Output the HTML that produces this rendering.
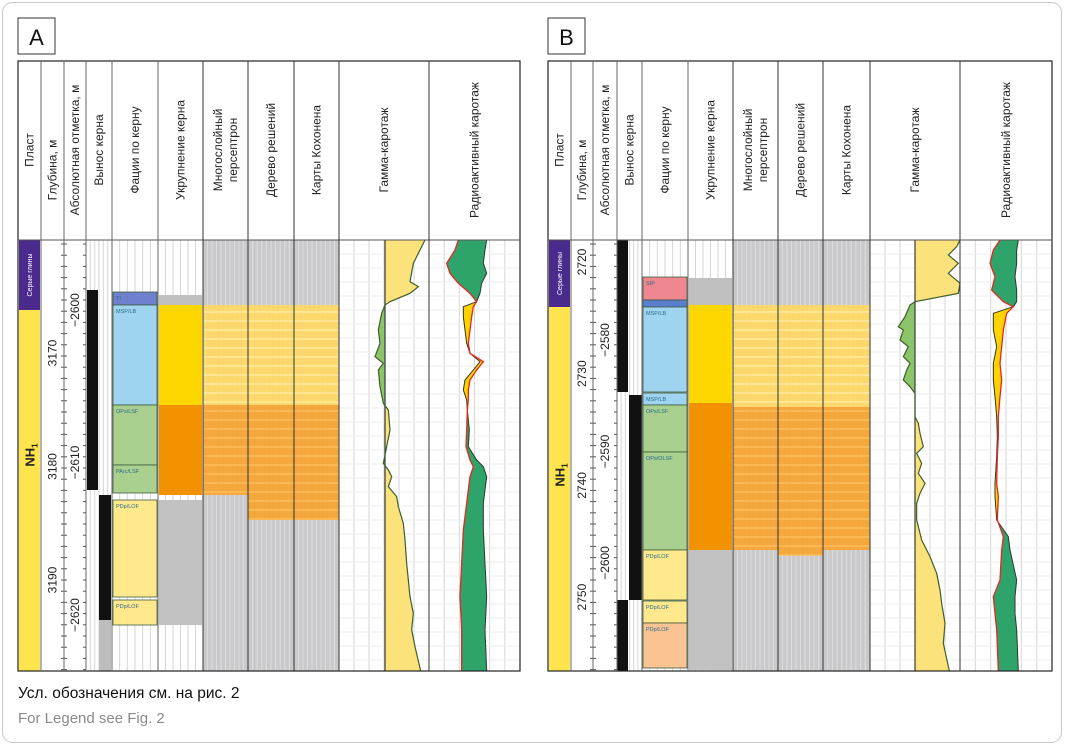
<!DOCTYPE html>
<html><head><meta charset="utf-8">
<style>
html,body{margin:0;padding:0;background:#fff;}
body{width:1065px;height:746px;overflow:hidden;font-family:"Liberation Sans","DejaVu Sans",sans-serif;}
svg text{font-family:"Liberation Sans","DejaVu Sans",sans-serif;}
</style></head>
<body>
<svg id="fig" width="1065" height="746" xmlns="http://www.w3.org/2000/svg">
<rect x="2.5" y="2.5" width="1059" height="740" rx="10" fill="#fff" stroke="#c8c8c8"/>
<text x="18" y="698" font-size="15.5" fill="#111">Усл. обозначения см. на рис. 2</text>
<text x="18" y="723" font-size="15" fill="#8a8a8a">For Legend see Fig. 2</text>
</svg>
<script>
// ---------- DATA ----------
const headerLabels = [["Пласт"],["Глубина, м"],["Абсолютная отметка, м"],["Вынос керна"],["Фации по керну"],["Укрупнение керна"],["Многослойный","персептрон"],["Дерево решений"],["Карты Кохонена"],["Гамма-каротаж"],["Радиоактивный каротаж"]];
const depthTicksA = [3170,3180,3190];
const absTicksA = [-2600,-2610,-2620];
const depthTicksB = [2720,2730,2740,2750];
const absTicksB = [-2580,-2590,-2600];
const faciesTopA = [292,305,405,465,500,600];
const faciesBotA = [305,405,465,493,597,625];
const faciesColA = ["#6f80cf","#9fd4f1","#a9d08e","#a9d08e","#ffe98c","#ffe98c"];
const faciesLblA = ["TI","MSP/LB","OPs/LSF","PArc/LSF","PDp/LOF","PDp/LOF"];
const faciesTopB = [277,300,307,393,405,452,550,601,623];
const faciesBotB = [300,307,392,405,452,550,600,623,668];
const faciesColB = ["#ee8790","#5b7fd0","#9fd4f1","#9fd4f1","#a9d08e","#a9d08e","#ffe98c","#ffe98c","#f9c392"];
const faciesLblB = ["SIP","","MSP/LB","MSP/LB","OPs/LSF","OPs/OLSF","PDp/LOF","PDp/LOF","PDp/LOF"];
const upTopA=[295,305,405,500], upBotA=[305,405,495,625], upColA=["#c0c0c0","#ffd700","#f39200","#c2c2c2"];
const upTopB=[278,305,403,550], upBotB=[305,403,550,670], upColB=["#c0c0c0","#ffd700","#f39200","#c2c2c2"];
const gDepA=[30,60,100,155,170,190,215,225,250,300,340,380,400,420,470,520,540,600,650,700,720,740,770,800,830,880,930,1000,1050,1100,1150,1200,1250,1323];
const gValA=[285,270,250,240,265,240,180,165,155,145,150,135,160,145,150,160,175,180,170,160,175,185,175,200,205,220,225,230,235,240,250,245,255,272];
const gDepB=[30,50,75,100,130,160,190,215,225,260,290,300,330,350,380,400,420,450,470,490,560,580,610,650,670,700,730,760,790,820,870,930,980,1030,1080,1120,1180,1240,1323];
const gValB=[300,290,265,295,265,300,295,165,150,135,115,130,120,145,130,150,140,130,150,165,165,175,180,190,170,185,175,195,180,170,170,185,210,230,240,245,255,250,268];
const rDepA=[30,60,100,130,160,190,215,230,260,300,340,370,395,420,450,480,510,540,600,650,690,710,740,780,820,900,1000,1100,1200,1323];
const rRedA=[385,375,350,360,385,420,440,430,425,420,415,420,460,440,420,415,415,412,410,408,420,430,420,415,410,400,395,390,395,395];
const rBlkA=[470,465,460,470,455,450,440,400,400,405,410,420,450,430,405,400,410,412,418,415,440,460,470,465,460,460,465,470,465,470];
const rDepB=[30,60,100,140,180,215,230,250,300,350,400,450,500,560,620,680,760,800,870,920,960,1050,1100,1150,1200,1323];
const rRedB=[420,400,390,405,395,430,460,440,430,425,420,425,420,415,415,412,410,415,412,430,425,420,400,405,410,415];
const rBlkB=[475,470,470,465,470,470,460,400,400,410,400,400,405,410,412,410,405,405,410,445,450,470,465,465,470,475];

// ---------- DRAW ----------
const NS="http://www.w3.org/2000/svg";
const svg=document.getElementById('fig');
function mk(tag,attrs,parent){const e=document.createElementNS(NS,tag);for(const k in attrs)e.setAttribute(k,attrs[k]);(parent||svg).appendChild(e);return e;}
const TOP=61, BODY=240, BOT=671;
const yIdx=i=>Math.min(BOT,Math.max(BODY,230+i/3));

function panel(P){
  const c=P.cols, g=mk('g',{});
  
  
  const lb=mk('rect',{x:c[0],y:18,width:37,height:36,fill:'#fff',stroke:'#333','stroke-width':1},g);
  
  const lt=mk('text',{x:c[0]+18.5,y:45,'font-size':22,'text-anchor':'middle',fill:'#111'},g);lt.textContent=P.id;
  
  headerLabels.forEach((L,i)=>{
    const cx=(c[i]+c[i+1])/2, cy=(i===1?170:150);
    const t=mk('text',{'font-size':12,fill:'#222','text-anchor':'middle',transform:`translate(${cx},${cy}) rotate(-90)`},g);
    
    L.forEach((s,j)=>{const ts=mk('tspan',{x:0,y:(j-(L.length-1)/2)*15+4},t);ts.textContent=s;});
  });
  const pl=mk('rect',{x:c[0]+1,y:BODY,width:c[1]-c[0]-2,height:P.purple-BODY,fill:'#4a2a8c'},g);
  
  const py=mk('rect',{x:c[0]+1,y:P.purple,width:c[1]-c[0]-2,height:BOT-P.purple,fill:'#ffe44d'},g);
  
  let t=mk('text',{'font-size':7,fill:'#fff','text-anchor':'middle',transform:`translate(${(c[0]+c[1])/2+2.5},${(BODY+P.purple)/2}) rotate(-90)`},g);t.textContent='Серые глины';
  t=mk('text',{'font-size':13,'font-weight':'bold',fill:'#222','text-anchor':'middle',transform:`translate(${(c[0]+c[1])/2+5},${P.nhY}) rotate(-90)`},g);
  t.innerHTML='NH<tspan font-size="8" dy="3">1</tspan>';
  for(let i=3;i<11;i++){
    const w=c[i+1]-c[i];
    for(let k=1;k<6;k++) mk('line',{x1:c[i]+w*k/6,x2:c[i]+w*k/6,y1:BODY,y2:BOT,stroke:'#d6d6d6','stroke-width':1},g);
  }
  for(let y=BODY+14;y<BOT;y+=14) mk('line',{x1:c[9],x2:c[11],y1:y,y2:y,stroke:'#ececec','stroke-width':1},g);
  for(let y=BODY+4;y<BOT;y+=11.2){mk('line',{x1:c[2]-3,x2:c[2]+3,y1:y,y2:y,stroke:'#555'},g);mk('line',{x1:c[3]-3,x2:c[3],y1:y,y2:y,stroke:'#555'},g);}
  P.dT.forEach(d=>{const y=P.dY(d);const tt=mk('text',{'font-size':12,fill:'#222','text-anchor':'middle',transform:`translate(${(c[1]+c[2])/2+4},${y}) rotate(-90)`},g);tt.textContent=d;
    });
  P.aT.forEach(d=>{const y=P.aY(d);const tt=mk('text',{'font-size':12,fill:'#222','text-anchor':'middle',transform:`translate(${(c[2]+c[3])/2+4},${y}) rotate(-90)`},g);tt.textContent='−'+Math.abs(d);
    });
  P.core.forEach(k=>{const r=mk('rect',{x:k[0],y:k[1],width:k[2],height:k[3]-k[1],fill:k[4]},g);
    });
  P.fT.forEach((top,i)=>{
    const r=mk('rect',{x:c[4]+1,y:top,width:c[5]-c[4]-2,height:P.fB[i]-top,fill:P.fC[i],stroke:'#3c5a3c','stroke-width':0.8},g);
    
    if(P.fL[i]){const tx=mk('text',{x:c[4]+4,y:top+8,'font-size':5.5,fill:'#2a6a8a'},g);tx.textContent=P.fL[i];}
  });
  P.uT.forEach((top,i)=>{const r=mk('rect',{x:c[5]+1,y:top,width:c[6]-c[5]-2,height:P.uB[i]-top,fill:P.uC[i]},g);
    });
  for(let j=6;j<9;j++){
    const x=c[j],w=c[j+1]-c[j];
    const bg=mk('rect',{x:x,y:BODY,width:w,height:BOT-BODY,fill:'#c9c9cb'},g);
    
    for(let k=1;k<10;k++) mk('line',{x1:x+w*k/10,x2:x+w*k/10,y1:BODY,y2:BOT,stroke:'#dcdcdc','stroke-width':1.2},g);
    const m=P.ml[j-6];
    const ry=mk('rect',{x:x,y:m[0],width:w,height:m[1]-m[0],fill:'#ffd966',opacity:0.92},g);
    
    const ro=mk('rect',{x:x,y:m[1],width:w,height:m[2]-m[1],fill:'#f7a535',opacity:0.95},g);
    
    for(let y=m[0]+6;y<m[2];y+=9){mk('rect',{x:x,y:y,width:w,height:2,fill:y<m[1]?'#ffe99a':'#fbbd5a',opacity:0.8},g);}
  }
  const gc=c[9], gb=P.gBase, sx=v=>P.gx0+v/3;
  const pts=P.gD.map((d,i)=>[sx(P.gV[i]),yIdx(d)]);
  const poly=[[gb,pts[0][1]],...pts,[gb,pts[pts.length-1][1]]].map(p=>p.join(',')).join(' ');
  const cid='clip'+P.id;
  mk('clipPath',{id:cid+'R'},g).appendChild(mk('rect',{x:gb,y:BODY,width:c[10]-gb,height:BOT-BODY},g));
  mk('clipPath',{id:cid+'L'},g).appendChild(mk('rect',{x:gc,y:BODY,width:gb-gc,height:BOT-BODY},g));
  let gp=mk('polygon',{points:poly,fill:'#fbe27a','clip-path':`url(#${cid}R)`},g);
  
  gp=mk('polygon',{points:poly,fill:'#8cc46a','clip-path':`url(#${cid}L)`},g);
  
  mk('line',{x1:gb,x2:gb,y1:BODY,y2:BOT,stroke:'#3a3a3a','stroke-width':1.2},g);
  const gl=mk('polyline',{points:pts.map(p=>p.join(',')).join(' '),fill:'none',stroke:'#3d5f2a','stroke-width':1.2},g);
  
  const rx=v=>P.gx0+v/3;
  for(let i=0;i<P.rD.length-1;i++){
    const y0=yIdx(P.rD[i]),y1=yIdx(P.rD[i+1]);
    const a=[rx(P.rR[i]),rx(P.rR[i+1]),rx(P.rK[i+1]),rx(P.rK[i])];
    const col=(P.rK[i]+P.rK[i+1])>(P.rR[i]+P.rR[i+1])?'#2ea36a':'#ffd200';
    const q=mk('polygon',{points:`${a[0]},${y0} ${a[1]},${y1} ${a[2]},${y1} ${a[3]},${y0}`,fill:col,stroke:col,'stroke-width':0.4},g);
    
  }
  let pl2=mk('polyline',{points:P.rD.map((d,i)=>rx(P.rK[i])+','+yIdx(d)).join(' '),fill:'none',stroke:'#2b3a2b','stroke-width':1},g);
  
  pl2=mk('polyline',{points:P.rD.map((d,i)=>rx(P.rR[i])+','+yIdx(d)).join(' '),fill:'none',stroke:'#e8261e','stroke-width':1.3},g);
  
  mk('rect',{x:c[0],y:TOP,width:c[11]-c[0],height:BOT-TOP,fill:'none',stroke:'#222','stroke-width':1.2},g);
  mk('line',{x1:c[0],x2:c[11],y1:BODY,y2:BODY,stroke:'#555','stroke-width':1},g);
  for(let i=1;i<11;i++) mk('line',{x1:c[i],x2:c[i],y1:TOP,y2:BOT,stroke:(i>=6?'#333':'#666'),'stroke-width':1},g);
}
panel({id:'A',cols:[18,41,64,86,112,158,203,248,294,339,429,520],purple:310,nhY:455,
  dT:depthTicksA,dY:d=>353+(d-3170)*11.35,aT:absTicksA,aY:d=>310+(-2600-d)*15.25,
  core:[[87,290,11,490,'#111'],[99,495,12,620,'#111'],[99,620,12,671,'#bdbdbd']],
  fT:faciesTopA,fB:faciesBotA,fC:faciesColA,fL:faciesLblA,uT:upTopA,uB:upBotA,uC:upColA,
  ml:[[305,405,495],[305,405,520],[305,405,520]],
  gx0:330,gBase:385,gD:gDepA,gV:gValA,rD:rDepA,rR:rRedA,rK:rBlkA});
panel({id:'B',cols:[548,571,593,617,642,688,733,778,823,870,960,1052],purple:307,nhY:475,
  dT:depthTicksB,dY:d=>262+(d-2720)*11.17,aT:absTicksB,aY:d=>340+(-2580-d)*11.15,
  core:[[617,240,11,392,'#111'],[629,395,13,600,'#111'],[617,600,11,671,'#111']],
  fT:faciesTopB,fB:faciesBotB,fC:faciesColB,fL:faciesLblB,uT:upTopB,uB:upBotB,uC:upColB,
  ml:[[305,407,550],[305,407,555],[305,407,550]],
  gx0:860,gBase:915,gD:gDepB,gV:gValB,rD:rDepB,rR:rRedB,rK:rBlkB});
</script>
</body></html>
